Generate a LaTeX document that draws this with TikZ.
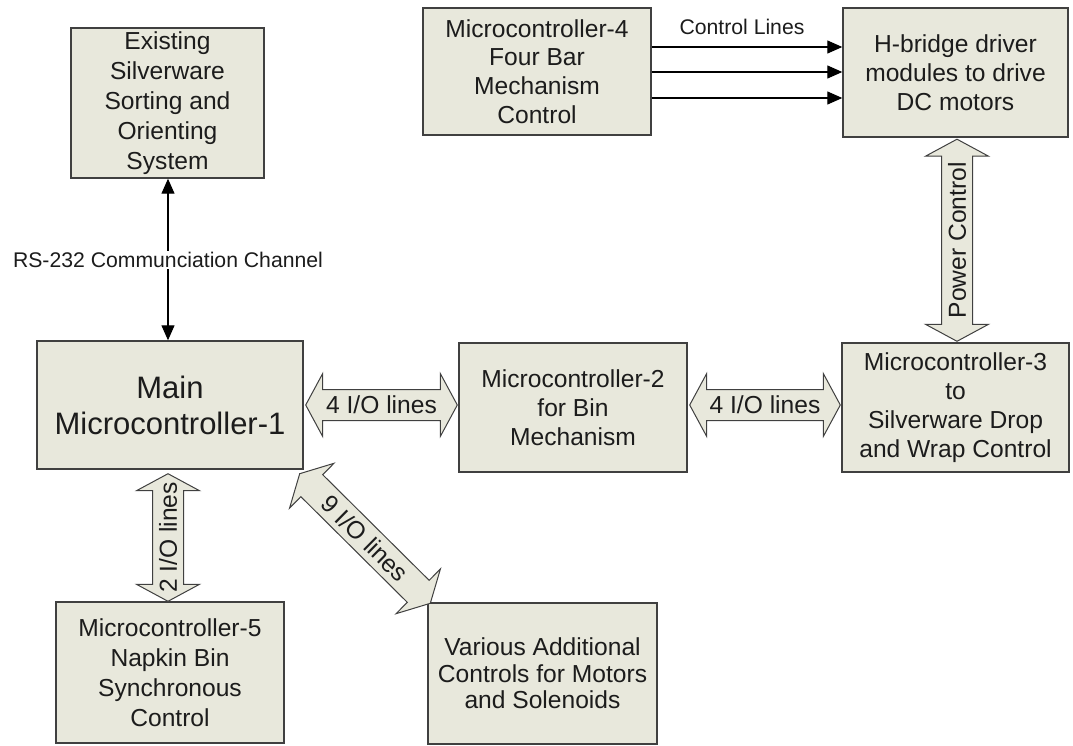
\documentclass[tikz,border=0pt]{standalone}
\usepackage{fontspec}
\setmainfont{Liberation Sans}
\usetikzlibrary{calc,arrows.meta}
\definecolor{boxfill}{RGB}{232,232,220}
\definecolor{boxline}{RGB}{64,64,64}
\definecolor{txt}{RGB}{28,28,28}
\newcommand\blockarr[5]{%
  \coordinate (bpa) at ($(#1)!17pt!(#2)$);
  \coordinate (bpb) at ($(#2)!17pt!(#1)$);
  \draw[barrow] (#1) -- ($(bpa)!31.5pt!90:(#2)$) -- ($(bpa)!15.5pt!90:(#2)$)
    -- ($(bpb)!15.5pt!-90:(#1)$) -- ($(bpb)!31.5pt!-90:(#1)$) -- (#2)
    -- ($(bpb)!31.5pt!90:(#1)$) -- ($(bpb)!15.5pt!90:(#1)$)
    -- ($(bpa)!15.5pt!-90:(#2)$) -- ($(bpa)!31.5pt!-90:(#2)$) -- cycle;
  \node[alabel, rotate=#3] (#5) at ($(#1)!0.5!(#2)$) {#4};
}
\tikzset{
  box/.style={draw=boxline, fill=boxfill, line width=1.4pt, align=center,
    inner sep=0pt, text=txt, font=\fontsize{24.6}{28.8}\selectfont},
  barrow/.style={draw=boxline, fill=boxfill, line width=1pt, line join=miter},
  alabel/.style={inner sep=0pt, text=txt, font=\fontsize{24.6}{28}\selectfont},
  lbl/.style={inner sep=1pt, text=txt, font=\fontsize{21.2}{24}\selectfont},
  conn/.style={draw=black, line width=1.2pt, -{Triangle[width=13pt,length=15pt]}},
  conn2/.style={draw=black, line width=1.2pt, {Triangle[width=13pt,length=15pt]}-{Triangle[width=13pt,length=15pt]}},
}
\begin{document}
\begin{tikzpicture}[x=1pt,y=-1pt]
\fill[white] (0,0) rectangle (1073,746);
\useasboundingbox (0,0) rectangle (1073,746);

\node[box, minimum width=193pt, minimum height=150pt, font=\fontsize{24.6}{30}\selectfont] (exist) at (167.5,103) {Existing\\Silverware\\Sorting and\\Orienting\\System};
\node[box, minimum width=228pt, minimum height=127pt] (mc4) at (537,71.5) {Microcontroller-4\\Four Bar\\Mechanism\\Control};
\node[box, minimum width=225pt, minimum height=129pt] (hb) at (955.5,72.5) {H-bridge driver\\modules to drive\\DC motors};
\node[box, minimum width=266pt, minimum height=128pt, font=\fontsize{31}{36}\selectfont] (main) at (170,405) {Main\\Microcontroller-1};
\node[box, minimum width=228pt, minimum height=129pt] (mc2) at (573,407.5) {Microcontroller-2\\for Bin\\Mechanism};
\node[box, minimum width=227pt, minimum height=129pt] (mc3) at (955.5,407.5) {Microcontroller-3\\to\\Silverware Drop\\and Wrap Control};
\node[box, minimum width=228pt, minimum height=141pt, font=\fontsize{24.6}{30}\selectfont] (mc5) at (170,672.5) {Microcontroller-5\\Napkin Bin\\Synchronous\\Control};
\node[box, minimum width=229pt, minimum height=141pt, font=\fontsize{24.6}{26.5}\selectfont] (var) at (542.5,673.5) {Various Additional\\Controls for Motors\\and Solenoids};

% RS-232 link
\coordinate (rsA) at ($(exist.south)+(0.5,0)$);
\draw[conn2] (rsA) -- (rsA |- main.north);
\node[lbl, fill=white] (rs) at (168,260) {RS-232 Communciation Channel};

% control lines
\foreach \dy [count=\i] in {-24.5,0.5,26.5} {
  \coordinate (cl\i) at ($(mc4.east)+(0,\dy)$);
  \draw[conn] (cl\i) -- (cl\i -| hb.west);
}
\node[lbl] (ctl) at (742,27) {Control Lines};

% block arrows
\coordinate (m2a) at ($(main.east)+(2,0)$);
\coordinate (m2b) at ($(mc2.west |- main.east)+(-1,0)$);
\blockarr{m2a}{m2b}{0}{4 I/O lines}{l1}

\coordinate (m3a) at ($(mc2.east |- main.east)+(2,0)$);
\coordinate (m3b) at ($(mc3.west |- main.east)+(-1,0)$);
\blockarr{m3a}{m3b}{0}{4 I/O lines}{l2}

\coordinate (pwa) at ($(hb.south)+(1.5,1.5)$);
\coordinate (pwb) at ($(hb.south |- mc3.north)+(1.5,-1)$);
\blockarr{pwb}{pwa}{90}{Power Control}{l3}

\coordinate (ioa) at ($(main.south)+(-2,4)$);
\coordinate (iob) at ($(ioa |- mc5.north)$);
\blockarr{iob}{ioa}{90}{2 I/O lines}{l4}

\coordinate (nia) at ($(main.south east)+(-4,4)$);
\coordinate (nib) at ($(var.north west)+(3,1)$);
\blockarr{nia}{nib}{-44.6}{9 I/O lines}{l5}
\end{tikzpicture}
\end{document}
